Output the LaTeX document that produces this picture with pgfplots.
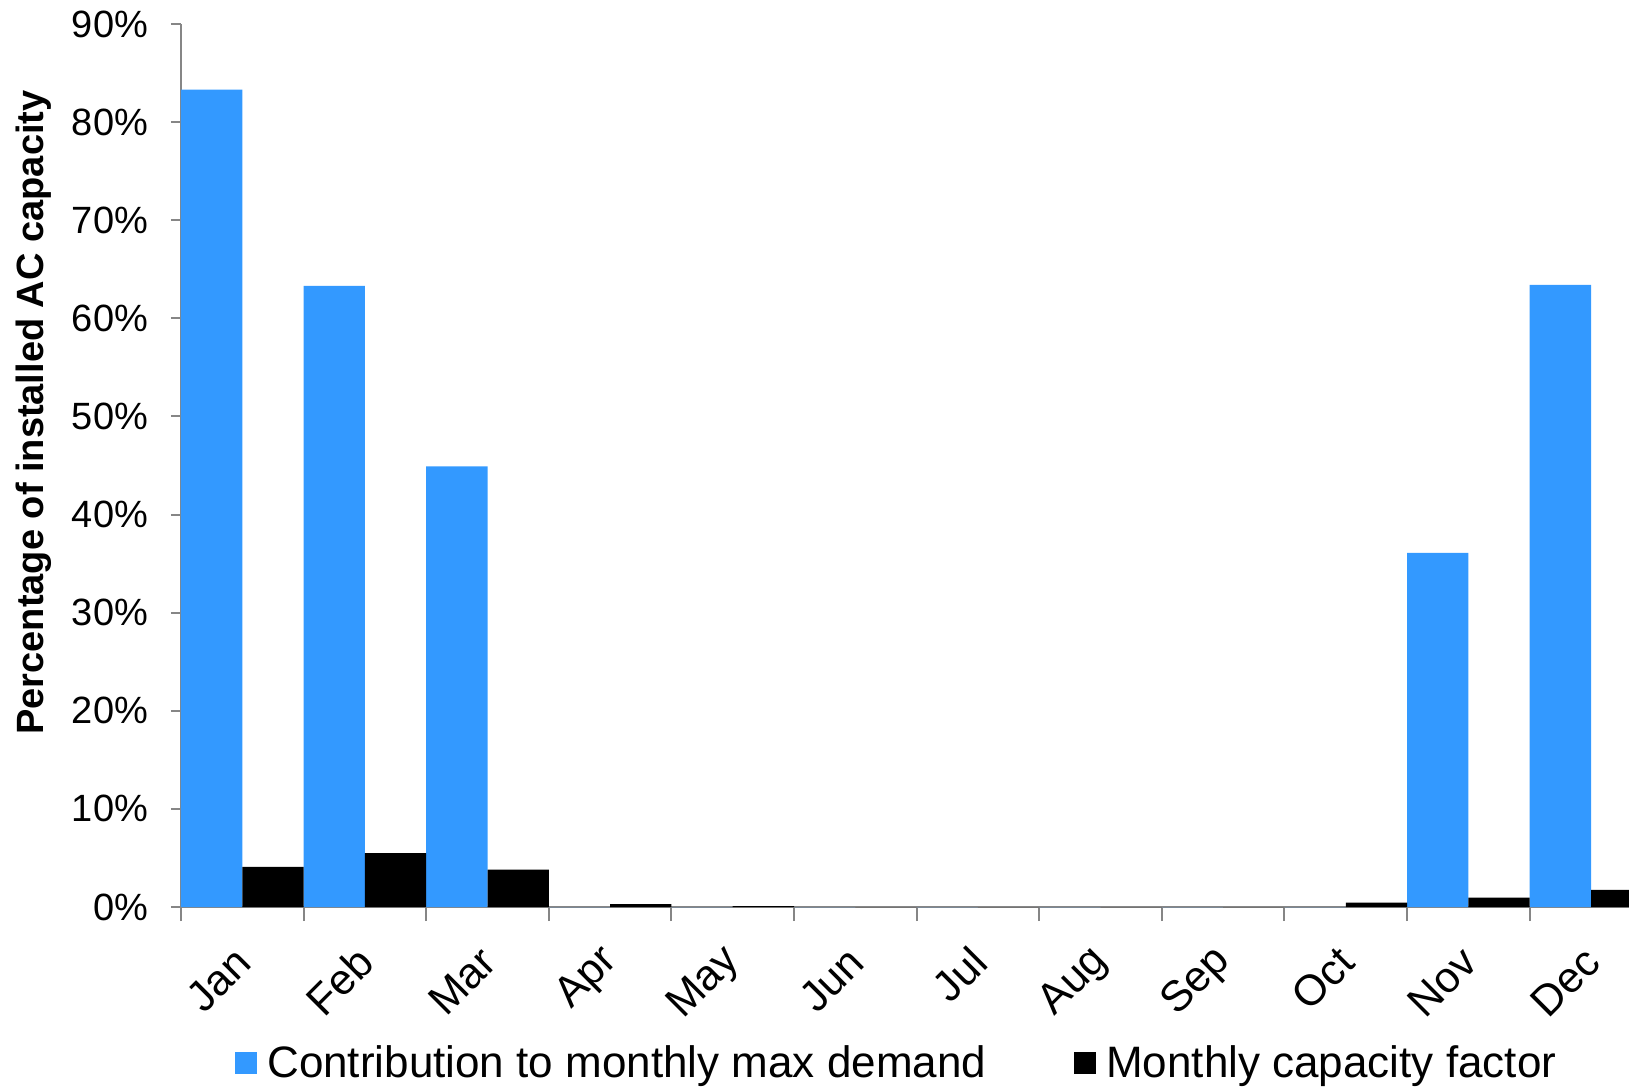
\documentclass[border=0pt]{standalone}
\usepackage{fontspec}
\setmainfont{Liberation Sans}
\usepackage{pgfplots}
\pgfplotsset{compat=1.18}
\definecolor{demandblue}{RGB}{51,153,255}
\definecolor{axisgray}{RGB}{134,134,134}

\begin{document}
\begin{tikzpicture}
\begin{axis}[
  name=main,
  scale only axis,
  width=724pt, height=441.5pt,
  xmin=0, xmax=11.81, ymin=0, ymax=90,
  axis x line*=bottom, axis y line*=left,
  axis line style={axisgray, line width=1pt},
  tick align=outside,
  every tick/.style={axisgray, line width=1pt},
  major tick length=5pt, minor tick length=7pt,
  ytick={0,10,...,90},
  yticklabel={\pgfmathprintnumber{\tick}\%},
  /pgf/number format/assume math mode=true,
  yticklabel style={font=\fontsize{19}{21}\selectfont, xshift=-8pt},
  xtick={0.5,1.5,...,11.5},
  xticklabels={Jan,Feb,Mar,Apr,May,Jun,Jul,Aug,Sep,Oct,Nov,Dec},
  major x tick style={draw=none},
  minor xtick={0,1,...,11},
  xticklabel style={font=\fontsize{21.5}{23}\selectfont, xshift=3pt, yshift=-16.5pt, rotate=45, anchor=east},
  ylabel={\textbf{Percentage of installed AC capacity}},
  ylabel style={font=\fontsize{19}{21}\selectfont, at={(axis description cs:-0.1015,0.56)}, anchor=center},
  ybar, bar width=0.5, bar shift=0pt,
  legend columns=2,
  legend style={draw=none, at={(0.495,-0.177)}, anchor=center,
    font=\fontsize{22}{24}\selectfont,
    /tikz/every even column/.append style={column sep=42pt}},
  legend image code/.code={\fill[#1] (0pt,-5.5pt) rectangle (11pt,5.5pt);},
]
% Contribution to monthly max demand (left half of each month)
\addplot[fill=demandblue, draw=none] coordinates {
  (0.25,83.3) (1.25,63.3) (2.25,44.9) (3.25,0) (4.25,0) (5.25,0)
  (6.25,0) (7.25,0) (8.25,0) (9.25,0) (10.25,36.1) (11.25,63.4)};
\addlegendentry{\hspace{3pt}Contribution to monthly max demand}
% Monthly capacity factor (right half of each month)
\addplot[fill=black, draw=none] coordinates {
  (0.75,4.1) (1.75,5.5) (2.75,3.8) (3.75,0.3) (4.75,0.1) (5.75,0)
  (6.75,0) (7.75,0) (8.75,0) (9.75,0.45) (10.75,0.95) (11.75,1.75)};
\addlegendentry{\hspace{3pt}Monthly capacity factor}
\end{axis}
\pgfresetboundingbox
\path[use as bounding box] (-90.5pt,-90pt) rectangle (724pt,453.5pt);
\end{tikzpicture}
\end{document}
